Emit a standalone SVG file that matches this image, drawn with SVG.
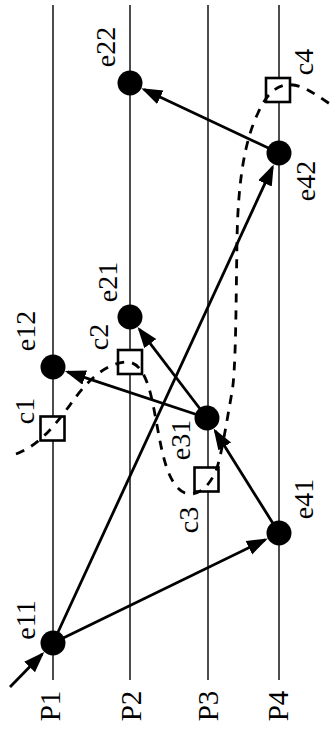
<svg xmlns="http://www.w3.org/2000/svg" width="335" height="740" viewBox="0 0 335 740">
<style>
.proc{stroke:#000;stroke-width:1.4;fill:none}
.ev{fill:#000}
.cp{fill:#fff;stroke:#000;stroke-width:2.6}
.msg{stroke:#000;stroke-width:2.8;fill:none;marker-end:url(#ah)}
.cut{stroke:#000;stroke-width:2.8;fill:none;stroke-dasharray:9 8}
text{font-family:"Liberation Serif","Times New Roman",serif;font-size:28px;fill:#000;text-anchor:middle}
.pl{font-size:29px}
</style>
<defs>
<marker id="ah" markerUnits="userSpaceOnUse" markerWidth="24" markerHeight="16" refX="18" refY="7.5" orient="auto">
<path d="M0,0 L21,7.5 L0,15 z" fill="#000"/>
</marker>
</defs>
<g id="processes">
<g id="P1"><line class="proc" x1="53" y1="5" x2="53" y2="680"/><text class="pl" transform="translate(60,706) rotate(-90)">P1</text></g>
<g id="P2"><line class="proc" x1="130" y1="5" x2="130" y2="680"/><text class="pl" transform="translate(141,706) rotate(-90)">P2</text></g>
<g id="P3"><line class="proc" x1="208" y1="5" x2="208" y2="680"/><text class="pl" transform="translate(218,706) rotate(-90)">P3</text></g>
<g id="P4"><line class="proc" x1="279" y1="5" x2="279" y2="680"/><text class="pl" transform="translate(288,706) rotate(-90)">P4</text></g>
</g>
<g id="connectors">
<line class="msg" x1="10" y1="687" x2="42.2" y2="654.1"/>
<line class="msg" x1="53" y1="643" x2="265.1" y2="539.8"/>
<line class="msg" x1="53" y1="643" x2="272.5" y2="167.1"/>
<line class="msg" x1="279" y1="533" x2="215.2" y2="431.1"/>
<line class="msg" x1="207" y1="418" x2="67.7" y2="371.9"/>
<line class="msg" x1="207" y1="418" x2="139.4" y2="329.3"/>
<line class="msg" x1="279" y1="153" x2="144" y2="89.6"/>
</g>
<g id="c1"><rect class="cp" x="40.5" y="416.5" width="24" height="24"/><text transform="translate(34,411) rotate(-90)">c1</text></g>
<g id="c2"><rect class="cp" x="118" y="350" width="24" height="24"/><text transform="translate(108,337) rotate(-90)">c2</text></g>
<g id="c3"><rect class="cp" x="194.5" y="467.5" width="24" height="24"/><text transform="translate(198,520) rotate(-90)">c3</text></g>
<g id="c4"><rect class="cp" x="266" y="78" width="24" height="24"/><text transform="translate(313,62) rotate(-90)">c4</text></g>
<g id="cut">
<path class="cut" d="M16,454 C40,445 55,425 70,405 C82,388 100,365 125,362 C145,360 151,393 156,420 C162,452 167,485 185,493 C200,498 212,482 217,468 C222,452 227,420 232,392 C236,370 236,300 237,240 C238,180 245,140 258,113 C265,98 272,88 285,85 C300,83 312,92 330,104"/>
</g>
<g id="e11"><circle class="ev" cx="53" cy="643" r="12.5"/><text transform="translate(35,620) rotate(-90)">e11</text></g>
<g id="e12"><circle class="ev" cx="53" cy="367" r="12.5"/><text transform="translate(35,331) rotate(-90)">e12</text></g>
<g id="e21"><circle class="ev" cx="130" cy="317" r="12.5"/><text transform="translate(117,282) rotate(-90)">e21</text></g>
<g id="e22"><circle class="ev" cx="130" cy="83" r="12.5"/><text transform="translate(115,47) rotate(-90)">e22</text></g>
<g id="e31"><circle class="ev" cx="207" cy="418" r="12.5"/><text transform="translate(190,440) rotate(-90)">e31</text></g>
<g id="e41"><circle class="ev" cx="279" cy="533" r="12.5"/><text transform="translate(313,499) rotate(-90)">e41</text></g>
<g id="e42"><circle class="ev" cx="279" cy="153" r="12.5"/><text transform="translate(315,181) rotate(-90)">e42</text></g>
</svg>
